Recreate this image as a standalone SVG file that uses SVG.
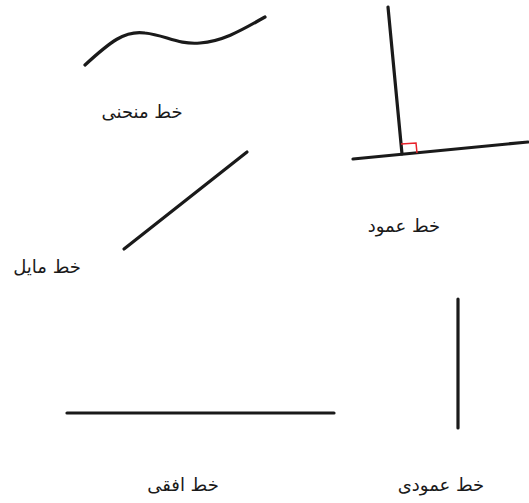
<svg xmlns="http://www.w3.org/2000/svg" width="529" height="503" viewBox="0 0 529 503">
<style>
.ln{fill:none;stroke:#1a1a1a;stroke-width:3.2;stroke-linecap:round}
.lb{font-family:"DejaVu Sans",sans-serif;font-size:18px;fill:#1a1a1a;text-anchor:middle;direction:rtl}
</style>
<rect width="529" height="503" fill="#fff"/>
<g id="curve">
<path class="ln" d="M85,65 C110,42 125,30 145,33 C165,35 178,45 200,43 C225,41 245,28 265,17"/>
<text class="lb" x="142" y="118">خط منحنی</text>
</g>
<g id="perpendicular">
<path class="ln" d="M388,7 L402,154"/>
<path class="ln" d="M353,159 L528,142"/>
<path d="M401,144 L416,143 L417,153" fill="none" stroke="#e8212a" stroke-width="1.5"/>
<text class="lb" x="404" y="232">خط عمود</text>
</g>
<g id="oblique">
<path class="ln" d="M124,249 L247,152"/>
<text class="lb" x="47" y="273">خط مایل</text>
</g>
<g id="horizontal">
<path class="ln" d="M67,413 L334,413"/>
<text class="lb" x="183" y="491">خط افقی</text>
</g>
<g id="vertical">
<path class="ln" d="M458,299 L458,428"/>
<text class="lb" x="441" y="491">خط عمودی</text>
</g>
</svg>
